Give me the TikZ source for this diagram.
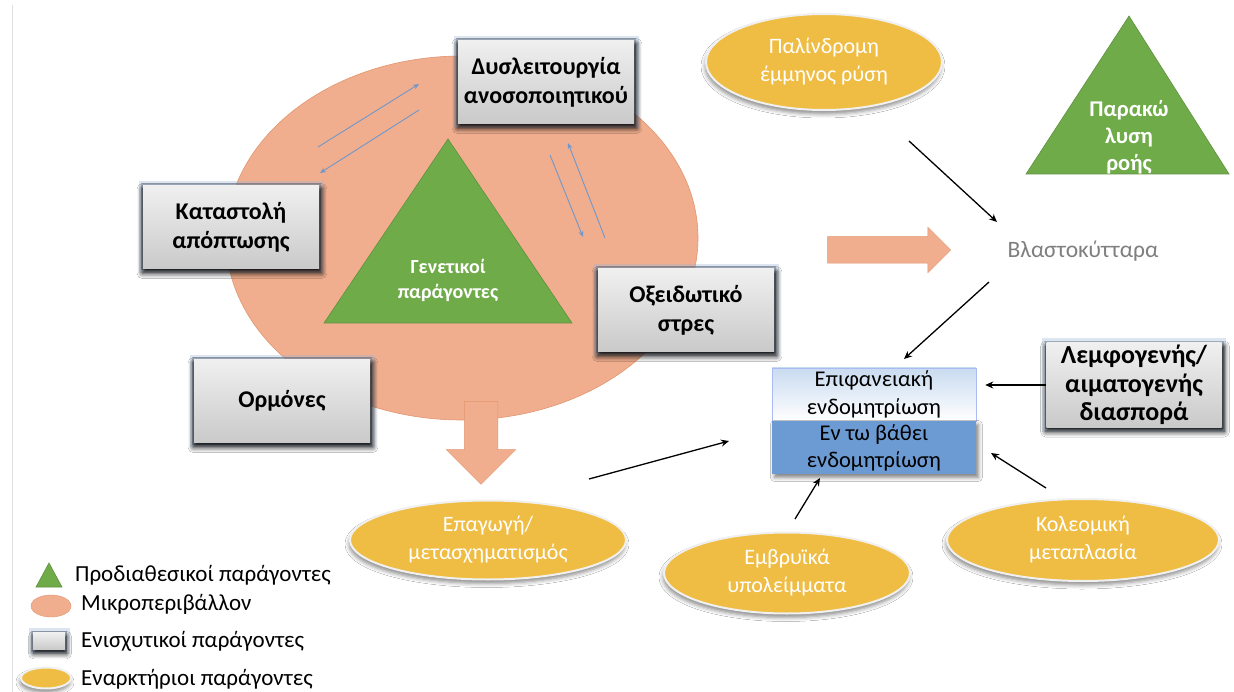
\documentclass[tikz,border=0pt]{standalone}
\usepackage{fontspec}
\setmainfont{Carlito}
\usepackage{xcolor}
\usetikzlibrary{arrows.meta, positioning, shapes.geometric, shapes.arrows, shadows.blur}

\definecolor{microc}{HTML}{F0AE8E}
\definecolor{microedge}{HTML}{E2966F}
\definecolor{predisc}{HTML}{70AB4A}
\definecolor{triggerc}{HTML}{F0BD44}
\definecolor{relblue}{HTML}{6F97CB}
\definecolor{deepc}{HTML}{6C9BD3}
\definecolor{surfc}{HTML}{C9DBF0}
\definecolor{stemgray}{HTML}{7F7F7F}
\definecolor{glowc}{HTML}{9DB6D6}

\begin{document}
\begin{tikzpicture}[
  x=1pt, y=-1pt,
  factor/.style={rectangle, minimum width=176pt, minimum height=83pt,
    top color=gray!12, bottom color=gray!42, align=center, inner sep=0pt,
    font=\fontsize{24}{29}\selectfont\bfseries,
    preaction={draw=glowc, line width=9pt, opacity=0.35},
    preaction={draw=glowc!70!black, line width=4pt, opacity=0.5},
    blur shadow={shadow xshift=1pt, shadow yshift=-4pt, shadow scale=1.02,
      shadow blur radius=5pt, shadow blur steps=8, shadow opacity=90}},
  trigger/.style={ellipse, fill=triggerc, draw=white!88!gray, line width=2pt,
    inner sep=0pt, align=center, text=white, font=\fontsize{22}{28}\selectfont,
    blur shadow={shadow xshift=-1pt, shadow yshift=-4pt, shadow blur radius=4pt,
      shadow opacity=45}},
  endo/.style={rectangle, minimum width=204pt, minimum height=53pt, inner sep=0pt,
    align=center, font=\fontsize{22.5}{27.5}\selectfont},
  predis/.style={fill=predisc, draw=predisc!85!black, line width=0.6pt},
  fat/.style={single arrow, fill=microc, draw=microedge, line width=0.5pt,
    inner xsep=0pt, single arrow head indent=0pt},
  arrow/.style={-{Stealth[length=8pt, width=7pt]}, line width=1.3pt},
  rel/.style={-{Stealth[length=6pt, width=5pt]}, draw=relblue, line width=0.9pt},
  legtext/.style={anchor=west, font=\fontsize{23}{27}\selectfont, inner sep=0pt}
]
  \useasboundingbox (0,0) rectangle (1234,692);
  \fill[white] (0,0) rectangle (1234,692);
  \draw[gray!25, line width=1pt] (12,5) -- (12,692);

  % microenvironment
  \node[ellipse, minimum width=472pt, minimum height=364pt, fill=microc,
    draw=microedge, line width=0.6pt] (micro) at (462,238) {};

  % predisposing
  \path[predis] (324,323) -- (448,139) -- (572,323) -- cycle;
  \node[text=white, align=center, font=\fontsize{20}{25}\selectfont\bfseries] (gen) at (448,280) {Γενετικοί\\παράγοντες};
  \path[predis] (1026,174) -- (1129,16) -- (1229,174) -- cycle;
  \node[text=white, align=center, font=\fontsize{22.5}{27}\selectfont\bfseries] (flow) at (1129,137) {Παρακώ\\λυση\\ροής};

  % promoting factors
  \node[factor] (immune) at (546,82) {Δυσλειτουργία\\ανοσοποιητικού};
  \node[factor] (apopt) at (231,227) {Καταστολή\\απόπτωσης};
  \node[factor] (oxid) at (686,310) {Οξειδωτικό\\στρες};
  \node[factor] (horm) at (282,401) {Ορμόνες};
  \node[factor, minimum width=175pt, minimum height=84pt,
    font=\fontsize{26}{28.5}\selectfont\bfseries] (lymph) at (1134,385) {Λεμφογενής/\\αιματογενής\\διασπορά};

  % initiating factors
  \node[trigger, minimum width=236pt, minimum height=96pt] (menses) at (824,62) {Παλίνδρομη\\έμμηνος ρύση};
  \node[trigger, minimum width=276pt, minimum height=79pt] (induct) at (488,540) {Επαγωγή/\\μετασχηματισμός};
  \node[trigger, minimum width=246pt, minimum height=81pt] (embryo) at (787,573) {Εμβρυϊκά\\υπολείμματα};
  \node[trigger, minimum width=272pt, minimum height=82pt] (coelom) at (1083,540) {Κολεομική\\μεταπλασία};

  \node[text=stemgray, font=\fontsize{23.5}{28}\selectfont] (stem) at (1083,251) {Βλαστοκύτταρα};

  % endometriosis
  \node[endo, top color=surfc, bottom color=white, draw=surfc!85!blue, line width=0.5pt] (surf) at (874,394.5) {Επιφανειακή\\ενδομητρίωση};
  \node[endo, fill=deepc, below=0pt of surf,
    blur shadow={shadow yshift=-3pt, shadow blur radius=4pt, shadow opacity=50}] (deep) {Εν τω βάθει\\ενδομητρίωση};

  % big arrows
  \node[fat, minimum height=123pt, inner ysep=13pt, single arrow head extend=9.5pt] (fatr) at (882.5,250) {};
  \node[fat, minimum height=83pt, inner ysep=16.5pt, single arrow head extend=18pt, rotate=-90] (fatd) at (481,434.5) {};

  % feedback
  \coordinate (r1a) at (318,147);
  \coordinate (r1b) at (419,84);
  \coordinate (r2a) at (419,110);
  \coordinate (r2b) at (320,173);
  \coordinate (r3a) at (550,155);
  \coordinate (r3b) at (583,237);
  \coordinate (r4a) at (605,238);
  \coordinate (r4b) at (568,143);
  \draw[rel] (r1a) -- (r1b);
  \draw[rel] (r2a) -- (r2b);
  \draw[rel] (r3a) -- (r3b);
  \draw[rel] (r4a) -- (r4b);

  % pathways
  \coordinate (m1) at (909,141);
  \coordinate (m2) at (997,222);
  \coordinate (s1) at (989,282);
  \coordinate (s2) at (904,359);
  \coordinate (i1) at (589,479);
  \coordinate (i2) at (729,441);
  \coordinate (e1) at (795,519);
  \coordinate (e2) at (820,478);
  \coordinate (c1) at (1046,488);
  \coordinate (c2) at (991,453);
  \draw[arrow] (m1) -- (m2);
  \draw[arrow] (s1) -- (s2);
  \draw[arrow] (i1) -- (i2);
  \draw[arrow] (e1) -- (e2);
  \draw[arrow] (c1) -- (c2);
  \draw[arrow, shorten >=9pt] (lymph.west) -- (lymph.west -| surf.east);

  % legend
  \path[predis] (36,587) -- (49,563) -- (62,587) -- cycle;
  \node[ellipse, fill=microc, draw=microedge, minimum width=40pt, minimum height=22pt, inner sep=0pt] (lmicro) at (51,606) {};
  \node[factor, minimum width=32pt, minimum height=17pt] (lfactor) at (49,641) {};
  \node[trigger, minimum width=50pt, minimum height=21pt] (ltrig) at (46,678) {};
  \node[legtext] (t1) at (75,575) {Προδιαθεσικοί παράγοντες};
  \node[legtext] (t2) at (81,604) {Μικροπεριβάλλον};
  \node[legtext] (t3) at (81,641) {Ενισχυτικοί παράγοντες};
  \node[legtext] (t4) at (81,679) {Εναρκτήριοι παράγοντες};
\end{tikzpicture}
\end{document}
